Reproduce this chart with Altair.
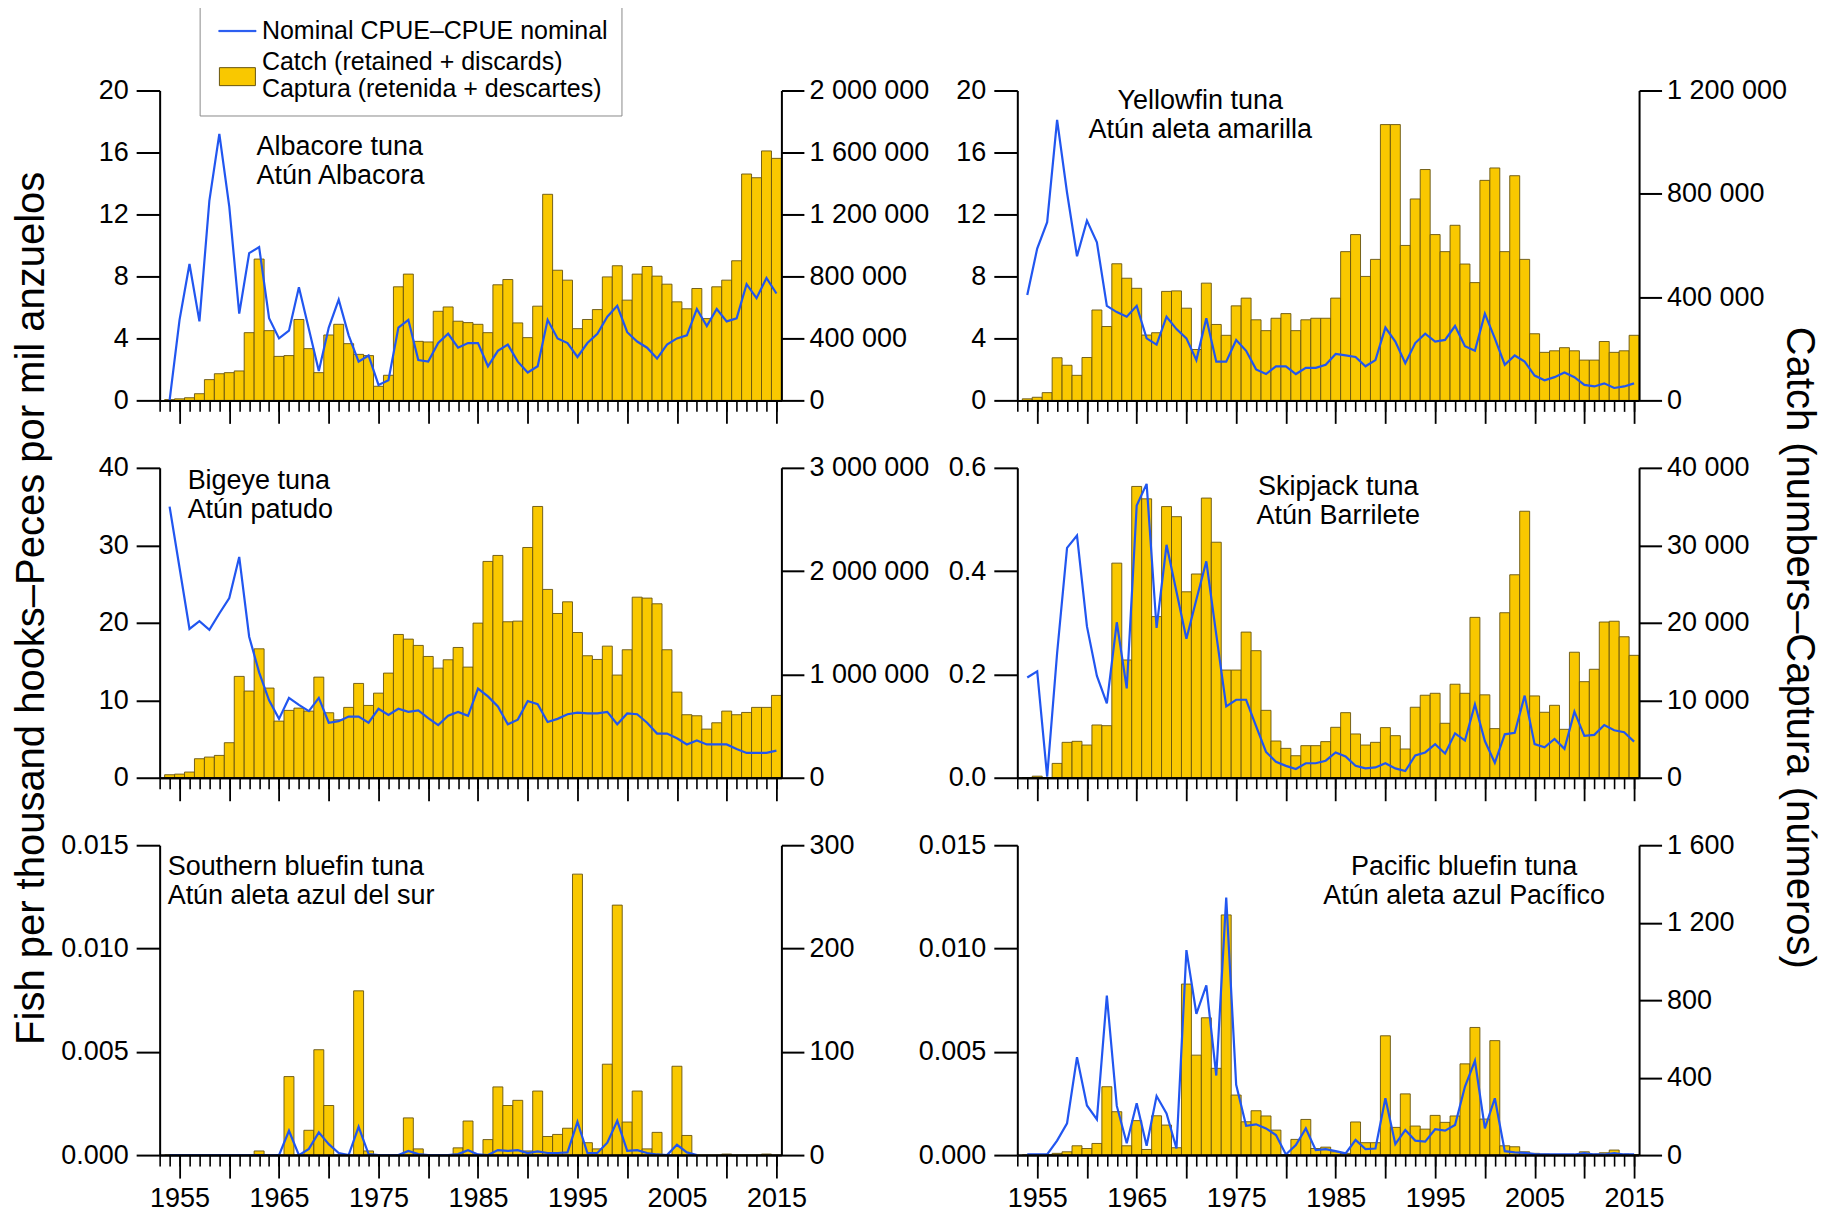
import altair as alt
import pandas as pd

# ---------------- data ----------------
YEARS = list(range(1954, 2016))

ALB_CATCH = [5000, 10000, 17000, 43000, 134000, 172000,
             179000, 190000, 437000, 912000, 450000, 284000, 289000, 522000, 334000, 179000,
             422000, 491000, 366000, 297000, 289000, 91000, 162000, 733000, 815000, 381000,
             377000, 575000, 603000, 511000, 502000, 491000, 437000, 746000, 780000, 500000,
             405000, 608000, 1330000, 840000, 776000, 463000, 522000, 586000, 797000, 869000,
             647000, 815000, 864000, 802000, 750000, 636000, 591000, 722000, 528000, 733000,
             776000, 901000, 1461000, 1437000, 1610000, 1562000]
ALB_CPUE = [0.0, 5.2, 8.8, 5.1, 12.9, 17.2,
            12.5, 5.6, 9.5, 9.9, 5.3, 4.0, 4.5, 7.3, 4.6, 1.9,
            4.7, 6.5, 4.2, 2.5, 2.9, 1.0, 1.3, 4.7, 5.2, 2.6,
            2.5, 3.7, 4.3, 3.4, 3.7, 3.7, 2.2, 3.2, 3.6, 2.5,
            1.8, 2.2, 5.2, 4.0, 3.7, 2.8, 3.7, 4.3, 5.4, 6.1,
            4.4, 3.8, 3.4, 2.7, 3.6, 4.0, 4.2, 5.9, 4.8, 5.9,
            5.1, 5.3, 7.5, 6.6, 7.9, 6.9]

YFT_CATCH = [6000, 12000, 30000, 165000, 136000, 97000,
             166000, 350000, 286000, 529000, 473000, 434000, 253000, 262000, 422000, 424000,
             357000, 197000, 454000, 294000, 252000, 366000, 396000, 312000, 270000, 318000,
             336000, 270000, 312000, 318000, 318000, 396000, 576000, 642000, 480000, 546000,
             1068000, 1068000, 600000, 780000, 894000, 642000, 576000, 678000, 528000, 456000,
             852000, 900000, 576000, 870000, 546000, 258000, 186000, 192000, 204000, 192000,
             156000, 156000, 228000, 186000, 192000, 252000]
YFT_CPUE = [6.8, 9.8, 11.5, 18.1, 13.4, 9.3,
            11.6, 10.2, 6.1, 5.7, 5.4, 6.1, 4.0, 3.6, 5.4, 4.6,
            4.0, 2.6, 5.3, 2.5, 2.5, 3.9, 3.2, 2.0, 1.7, 2.2,
            2.2, 1.7, 2.1, 2.1, 2.3, 3.0, 2.9, 2.8, 2.2, 2.6,
            4.7, 3.8, 2.4, 3.7, 4.3, 3.8, 3.9, 4.8, 3.5, 3.2,
            5.6, 4.0, 2.3, 2.9, 2.5, 1.6, 1.3, 1.5, 1.8, 1.5,
            1.0, 0.9, 1.1, 0.8, 0.9, 1.1]

BET_CATCH = [29000, 35000, 55000, 184000, 200000, 216000,
             339000, 981000, 839000, 1248000, 868000, 548000, 652000, 674000, 645000, 974000,
             629000, 561000, 681000, 913000, 700000, 819000, 1013000, 1387000, 1342000, 1281000,
             1174000, 1061000, 1142000, 1261000, 1071000, 1497000, 2094000, 2152000, 1510000, 1516000,
             2229000, 2626000, 1823000, 1590000, 1703000, 1406000, 1181000, 1145000, 1274000, 994000,
             1239000, 1748000, 1739000, 1684000, 1239000, 829000, 610000, 600000, 471000, 532000,
             645000, 610000, 632000, 681000, 681000, 797000]
BET_CPUE = [35.0, 27.1, 19.2, 20.2, 19.1, 21.2,
            23.2, 28.5, 18.2, 13.6, 10.0, 7.6, 10.3, 9.4, 8.6, 10.3,
            7.1, 7.3, 7.9, 7.9, 7.1, 8.9, 8.1, 8.9, 8.5, 8.7,
            7.7, 6.8, 8.0, 8.5, 8.0, 11.5, 10.5, 9.2, 6.9, 7.5,
            9.9, 9.5, 7.2, 7.6, 8.2, 8.4, 8.3, 8.3, 8.5, 6.9,
            8.3, 8.2, 7.1, 5.7, 5.7, 5.1, 4.3, 4.8, 4.3, 4.3,
            4.3, 3.7, 3.2, 3.2, 3.2, 3.5]

SKJ_CATCH = [0, 200, 0, 1850, 4570, 4700,
             4220, 6810, 6720, 27700, 15200, 37600, 36000, 20800, 35000, 33700,
             24000, 26300, 36100, 30400, 13900, 13900, 18800, 16400, 8700, 4740,
             3790, 2840, 4140, 4140, 4660, 6510, 8400, 5650, 4220, 4570,
             6470, 5430, 3710, 9100, 10650, 10900, 7030, 12070, 10900, 20700,
             10700, 6340, 21300, 26200, 34400, 10560, 8450, 9350, 6250, 16200,
             12400, 14000, 20100, 20200, 18200, 15800]
SKJ_CPUE = [0.194, 0.206, 0.002, 0.241, 0.445, 0.469,
            0.293, 0.197, 0.144, 0.301, 0.173, 0.527, 0.569, 0.290, 0.451, 0.360,
            0.269, 0.345, 0.419, 0.277, 0.138, 0.151, 0.151, 0.100, 0.050, 0.031,
            0.023, 0.017, 0.028, 0.028, 0.033, 0.049, 0.041, 0.023, 0.018, 0.020,
            0.028, 0.018, 0.013, 0.043, 0.049, 0.065, 0.047, 0.086, 0.072, 0.142,
            0.071, 0.029, 0.084, 0.087, 0.159, 0.065, 0.059, 0.075, 0.056, 0.128,
            0.081, 0.083, 0.102, 0.092, 0.088, 0.070]

SBT_CATCH = [0, 0, 0, 0, 0, 0,
             0, 0, 0, 4, 0, 0, 76, 0, 24, 102,
             48, 0, 0, 159, 4, 0, 0, 0, 36, 6,
             0, 0, 0, 7, 33, 0, 15, 66, 48, 53,
             4, 62, 18, 20, 26, 272, 12, 6, 88, 242,
             32, 62, 6, 22, 0, 86, 19, 0, 0, 0,
             1, 0, 0, 0, 1, 0]
SBT_CPUE = [0, 0, 0, 0, 0, 0,
            0, 0, 0, 0, 0, 0, 0.00118, 0, 0.0003, 0.0011,
            0.00053, 0.0001, 0, 0.00137, 0.00005, 0, 0, 0, 0.0002, 0.00005,
            0, 0, 0, 0.00005, 0.00024, 0.00003, 0, 0.00024, 0.0002, 0.00024,
            0.0001, 0.00018, 0.0001, 0.0001, 0.00013, 0.00161, 0.0001, 0.0001, 0.0006, 0.00166,
            0.0002, 0.00024, 0.0001, 0.00003, 0, 0.0005, 0.00013, 0, None, None,
            None, None, None, None, None, None]

PBF_CATCH = [0, 0, 3, 9, 17, 48,
             34, 60, 353, 224, 48, 178, 29, 203, 155, 38,
             883, 516, 709, 448, 1240, 310, 172, 229, 202, 129,
             3, 81, 184, 34, 41, 17, 9, 171, 64, 64,
             616, 143, 316, 150, 134, 205, 169, 202, 471, 659,
             186, 591, 48, 43, 17, 9, 5, 3, 3, 3,
             17, 5, 12, 26, 5, 3]
PBF_CPUE = [0.00003, 0.00003, 0.00003, 0.0007, 0.00154, 0.00474,
            0.0024, 0.00173, 0.00772, 0.00238, 0.00057, 0.00251, 0.00045, 0.00286, 0.00202, 0.00032,
            0.00992, 0.00684, 0.00822, 0.00385, 0.01246, 0.0034, 0.00142, 0.00149, 0.00129, 0.00097,
            0.00003, 0.00049, 0.00129, 0.00024, 0.00029, 0.00019, 0.00008, 0.00073, 0.00029, 0.00032,
            0.00275, 0.00053, 0.00121, 0.0007, 0.00065, 0.00125, 0.00118, 0.00146, 0.00332, 0.00456,
            0.00129, 0.00275, 0.00019, 0.00013, 0.00011, 0.00005, 0.00003, 0.00003, 0.00003, 0.00003,
            0.0001, 0.00003, 0.00003, 0.0001, 0.00003, 0.00003]

LEGEND_LABELS = ["Nominal CPUE\u2013CPUE nominal",
                 "Catch (retained + discards)|Captura (retenida + descartes)"]
LEFT_TITLE = "Fish per thousand hooks\u2013Peces por mil anzuelos"
RIGHT_TITLE = "Catch (numbers\u2013Captura (n\u00fameros)"

YEAR_TICKS = list(range(1953, 2016))
FIVE_TICKS = list(range(1955, 2016, 5))

# ---------------- styling ----------------
FONT = "Liberation Sans"
GOLD = "#F9C800"
EDGE = "#66540f"
BLUE = "#2156F0"
PANEL_W = 622
PANEL_H = 310
TICK_FS = 27
CATCH_LABEL = "replace(format(datum.value, ','), regexp(',', 'g'), ' ')"
LINE_SYM = "M-1.55,-0.05H1.55V0.05H-1.55Z"
RECT_SYM = "M-1.5,0.47H1.5V1.97H-1.5Z"

x_scale = alt.Scale(domain=[1953, 2015.5], nice=False, zero=False)


def panel(catch, cpue, lines, align, dx, dy, cpue_max, cpue_ticks, cpue_fmt,
          catch_max, catch_ticks, bottom=False, left_title=False,
          right_title=False, legend=False):
    df = pd.DataFrame({"year": YEARS, "catch": catch, "cpue": cpue})
    base = alt.Chart(df)

    minor_axis = alt.Axis(orient="bottom", values=YEAR_TICKS, tickSize=11,
                          tickWidth=1.6, domainWidth=2, labels=False,
                          grid=False, title=None, zindex=1)
    major_kw = dict(orient="bottom", values=FIVE_TICKS, tickSize=23,
                    tickWidth=1.8, domainWidth=2, grid=False, title=None,
                    zindex=1, labels=bottom)
    if bottom:
        major_kw.update(labelExpr="datum.value % 10 == 5 ? toString(datum.value) : ''",
                        labelPadding=7, labelFlush=False, labelOverlap=False,
                        labelFontSize=TICK_FS, labelBaseline="top")

    left_kw = dict(orient="left", values=cpue_ticks, format=cpue_fmt,
                   tickSize=23.5, tickWidth=2, domainWidth=2, labelPadding=8,
                   labelFontSize=TICK_FS, grid=False, zindex=1)
    if left_title:
        left_kw.update(title=LEFT_TITLE, titleAngle=270, titleBaseline="bottom",
                       titleAlign="center", titleX=-108, titleY=140,
                       titleFontSize=40, titleFontWeight="normal")
    else:
        left_kw["title"] = None

    right_kw = dict(orient="right", values=catch_ticks, labelExpr=CATCH_LABEL,
                    tickSize=22.5, tickWidth=2, domainWidth=2, labelPadding=5,
                    labelFontSize=TICK_FS, grid=False, zindex=1)
    if right_title:
        right_kw.update(title=RIGHT_TITLE, titleAngle=90, titleBaseline="bottom",
                        titleAlign="center", titleX=139, titleY=179.5,
                        titleFontSize=40, titleFontWeight="normal")
    else:
        right_kw["title"] = None

    bars = base.transform_calculate(
        x0="datum.year - 0.5", x1="datum.year + 0.5"
    ).mark_bar(fill=GOLD, stroke=EDGE, strokeWidth=0.9).encode(
        x=alt.X("x0:Q", scale=x_scale, axis=minor_axis),
        x2=alt.X2("x1:Q"),
        y=alt.Y("catch:Q", scale=alt.Scale(domain=[0, catch_max], nice=False, zero=True),
                axis=alt.Axis(**right_kw)),
        y2=alt.datum(0),
    )

    line = base.mark_line(color=BLUE, strokeWidth=2.2).encode(
        x=alt.X("year:Q", scale=x_scale, axis=alt.Axis(**major_kw)),
        y=alt.Y("cpue:Q", scale=alt.Scale(domain=[0, cpue_max], nice=False, zero=True),
                axis=alt.Axis(**left_kw)),
    )

    layers = [bars, line]
    if legend:
        leg = alt.Legend(title=None, orient="none", legendX=40, legendY=-85,
                         direction="vertical", symbolSize=576, symbolStrokeWidth=1,
                         symbolOffset=12.3, labelOffset=12, labelFont=FONT,
                         labelFontSize=25, labelColor="black", labelLimit=1000,
                         labelExpr="split(datum.label, '|')", padding=13,
                         rowPadding=5, strokeColor="#8a8a8a", fillColor="white")
        leg_df = pd.DataFrame({"series": LEGEND_LABELS})
        legend_layer = alt.Chart(leg_df).mark_point(filled=True, opacity=1, clip=True).encode(
            x=alt.value(-1000),
            y=alt.value(-1000),
            color=alt.Color("series:N", scale=alt.Scale(domain=LEGEND_LABELS, range=[BLUE, GOLD]), legend=leg),
            stroke=alt.Stroke("series:N", scale=alt.Scale(domain=LEGEND_LABELS, range=[BLUE, EDGE]), legend=leg),
            shape=alt.Shape("series:N", scale=alt.Scale(domain=LEGEND_LABELS, range=[LINE_SYM, RECT_SYM]), legend=leg),
        )
        layers.append(legend_layer)

    title = alt.TitleParams(text=lines, anchor="start", align=align, dx=dx, dy=dy,
                            fontSize=27, font=FONT, fontWeight="normal",
                            baseline="alphabetic", offset=0, lineHeight=29,
                            frame="group", color="black")

    return alt.layer(*layers).resolve_scale(y="independent").resolve_axis(
        x="independent").properties(width=PANEL_W, height=PANEL_H, title=title)


p1 = panel(ALB_CATCH, ALB_CPUE, ["Albacore tuna", "Atún Albacora"], "left", 97, 135,
           20, [0, 4, 8, 12, 16, 20], "d", 2000000,
           [0, 400000, 800000, 1200000, 1600000, 2000000], legend=True)
p2 = panel(YFT_CATCH, YFT_CPUE, ["Yellowfin tuna", "Atún aleta amarilla"], "center", 183, 89,
           20, [0, 4, 8, 12, 16, 20], "d", 1200000,
           [0, 400000, 800000, 1200000])
p3 = panel(BET_CATCH, BET_CPUE, ["Bigeye tuna", "Atún patudo"], "left", 28, 374,
           40, [0, 10, 20, 30, 40], "d", 3000000,
           [0, 1000000, 2000000, 3000000], left_title=True)
p4 = panel(SKJ_CATCH, SKJ_CPUE, ["Skipjack tuna", "Atún Barrilete"], "center", 321, 224.5,
           0.6, [0, 0.2, 0.4, 0.6], ".1f", 40000,
           [0, 10000, 20000, 30000, 40000], right_title=True)
p5 = panel(SBT_CATCH, SBT_CPUE, ["Southern bluefin tuna", "Atún aleta azul del sur"], "left", 8, 100,
           0.015, [0, 0.005, 0.010, 0.015], ".3f", 300,
           [0, 100, 200, 300], bottom=True)
p6 = panel(PBF_CATCH, PBF_CPUE, ["Pacific bluefin tuna", "Atún aleta azul Pacífico"], "center", 447, 100,
           0.015, [0, 0.005, 0.010, 0.015], ".3f", 1600,
           [0, 400, 800, 1200, 1600], bottom=True)

chart = alt.concat(
    p1, p2, p3, p4, p5, p6, columns=2,
    spacing={"row": 67.5, "column": 236}, bounds="flush"
).properties(
    padding={"left": 2.7, "top": -3.7, "right": 5, "bottom": -4.5}
).configure(
    font=FONT
).configure_view(
    stroke=None
).configure_axis(
    labelFont=FONT, labelColor="black", domainColor="black", tickColor="black",
    titleFont=FONT, titleColor="black"
)

chart.save("out.html", embed_options={"renderer": "svg", "actions": False})
